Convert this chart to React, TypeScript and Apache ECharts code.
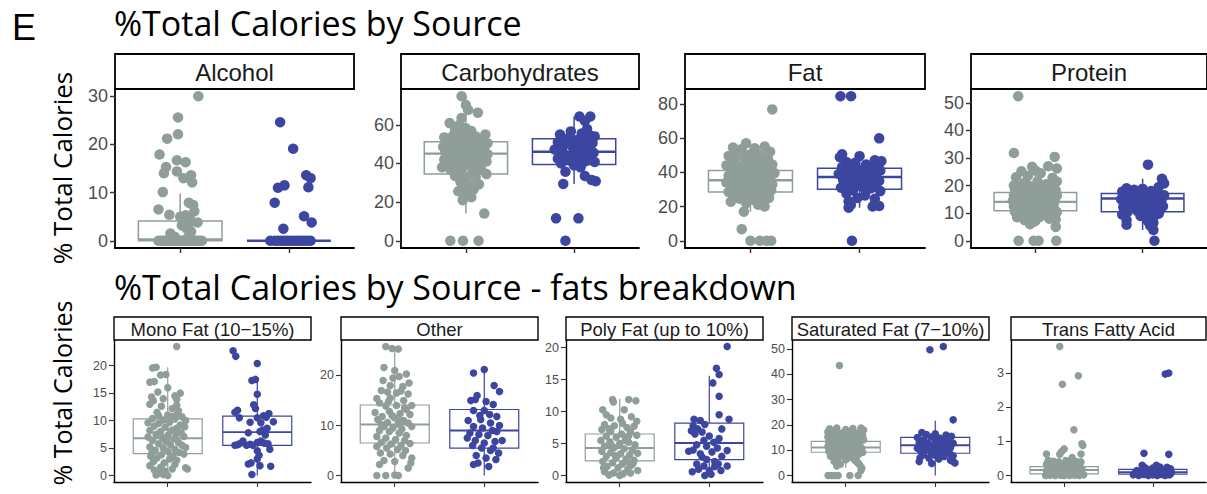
import React, { useEffect, useRef } from "react";
import * as echarts from "echarts";

const GRAY = "#8f9e98";
const BLUE = "#3c46a0";

// ---------- text ----------
const panelLetter = "E";
const topTitle = "%Total Calories by Source";
const bottomTitle = "%Total Calories by Source - fats breakdown";
const yTitle = "% Total Calories";
const topPanelNames = ["Alcohol", "Carbohydrates", "Fat", "Protein"];
const bottomPanelNames = ["Mono Fat (10−15%)", "Other", "Poly Fat (up to 10%)", "Saturated Fat (7−10%)", "Trans Fatty Acid"];

// ---------- tick labels ----------
const alcoholTicks = [0, 10, 20, 30];
const carbTicks = [0, 20, 40, 60];
const fatTicks = [0, 20, 40, 60, 80];
const proteinTicks = [0, 10, 20, 30, 40, 50];
const monoTicks = [0, 5, 10, 15, 20];
const otherTicks = [0, 10, 20];
const polyTicks = [0, 5, 10, 15, 20];
const satTicks = [0, 10, 20, 30, 40, 50];
const transTicks = [0, 1, 2, 3];

// ---------- box stats: [lowWhisker, Q1, median, Q3, highWhisker] ----------
const alcoholBoxGray = [0, 0, 0.3, 4.1, 9.8];
const alcoholBoxBlue = [0, 0, 0, 0, 0];
const carbBoxGray = [14.1, 34.5, 45.1, 51.2, 74.8];
const carbBoxBlue = [29.4, 39.5, 46.1, 52.8, 64.3];
const fatBoxGray = [17.0, 28.5, 35.3, 41.0, 56.9];
const fatBoxBlue = [19.3, 30.1, 37.2, 42.4, 49.4];
const proteinBoxGray = [5.0, 10.9, 14.1, 17.5, 27.0];
const proteinBoxBlue = [3.9, 10.5, 15.3, 17.1, 22.5];
const monoBoxGray = [0, 4.0, 6.8, 10.3, 19.7];
const monoBoxBlue = [0, 5.5, 7.9, 10.8, 17.4];
const otherBoxGray = [0, 6.5, 10.2, 14.1, 25.8];
const otherBoxBlue = [0, 5.5, 9.0, 13.2, 21.2];
const polyBoxGray = [0, 2.3, 4.3, 6.5, 12.0];
const polyBoxBlue = [0, 2.5, 5.1, 8.2, 15.6];
const satBoxGray = [3.0, 9.2, 11.1, 13.5, 18.8];
const satBoxBlue = [0, 8.8, 12.0, 15.1, 21.6];
const transBoxGray = [0, 0.05, 0.16, 0.26, 0.55];
const transBoxBlue = [0, 0.04, 0.1, 0.18, 0.3];

// ---------- jittered points: [offset from group centre, value] ----------
const alcoholPtsGray = [
  [0.167, 30], [-0.02, 25.6], [-0.02, 22.1], [-0.12, 21.2], [-0.19, 17.9], [-0.03, 16.7], [0.05, 16.3], [-0.13, 15.3],
  [-0.15, 14.0], [-0.03, 14.4], [0.1, 13.6], [0.03, 13.0], [0.11, 12.1], [-0.16, 10.1], [0.08, 7.9], [0.12, 7.4],
  [-0.2, 6.5], [0.13, 6.1], [-0.1, 5.4], [0, 5.0], [0.05, 5.3], [0.1, 3.9], [0.16, 3.8], [0.015, 3.2], [0.06, 2.5],
  [0.1, 1.9], [-0.09, 1.5], [0.03, 4.6], [0.09, 4.4], [-0.05, 0.8], [0.07, 0.6],
  [-0.2, 0], [-0.18, 0], [-0.16, 0], [-0.14, 0], [-0.12, 0], [-0.1, 0], [-0.08, 0], [-0.06, 0], [-0.04, 0], [-0.02, 0],
  [0, 0], [0.02, 0], [0.04, 0], [0.06, 0], [0.08, 0], [0.1, 0], [0.12, 0], [0.14, 0], [0.16, 0], [0.18, 0], [0.2, 0],
];
const alcoholPtsBlue = [
  [-0.08, 24.6], [0.04, 19.1], [0.16, 13.6], [0.2, 13.0], [-0.1, 11.0], [-0.04, 11.5], [0.18, 11.1], [-0.13, 7.9],
  [0.14, 5.1], [0.21, 3.8], [-0.05, 2.5],
  [-0.17, 0], [-0.13, 0], [-0.1, 0], [-0.07, 0], [-0.04, 0], [-0.01, 0], [0.02, 0], [0.05, 0], [0.08, 0], [0.11, 0],
  [0.14, 0], [0.17, 0], [0.2, 0],
];
const carbPtsGray = [
  [-0.04, 74.8], [0, 70.2], [0.02, 67.7], [0.11, 66.3], [-0.04, 63.5], [-0.15, 60.9], [-0.06, 60.0], [0.0, 58.2],
  [0.18, 55.0], [-0.1, 57.5], [0.05, 56.8], [-0.02, 55.5],
  [-0.2, 53.5], [-0.12, 54.2], [-0.07, 52.8], [0.02, 53.4], [0.09, 54.0], [0.15, 52.5], [-0.17, 51.0], [-0.09, 50.6],
  [0.0, 51.5], [0.07, 50.2], [0.13, 49.8], [0.2, 50.5], [-0.21, 48.6], [-0.14, 48.0], [-0.05, 49.0], [0.03, 48.4],
  [0.1, 47.5], [0.17, 48.2], [-0.19, 46.2], [-0.11, 45.6], [-0.02, 46.5], [0.06, 45.8], [0.14, 46.0], [0.2, 44.8],
  [-0.16, 44.0], [-0.08, 43.4], [0.01, 44.2], [0.09, 43.0], [0.16, 42.6], [-0.2, 42.0], [-0.12, 41.2], [-0.03, 41.8],
  [0.05, 40.6], [0.12, 40.2], [0.19, 41.0], [-0.17, 39.4], [-0.07, 38.8], [0.02, 39.2], [0.1, 38.0],
  [-0.22, 38.0], [0.19, 34.5], [-0.14, 36.5], [-0.04, 36.0], [0.06, 35.2], [0.14, 36.8], [-0.1, 33.5], [0.0, 32.8],
  [0.09, 33.0], [-0.05, 30.5], [0.03, 29.0], [0.12, 29.2], [0.0, 27.0], [0.07, 26.5], [-0.07, 25.6], [-0.02, 24.0],
  [0.05, 22.5], [-0.03, 21.0], [0.17, 14.1],
  [-0.144, 0], [-0.027, 0], [0.117, 0],
];
const carbPtsBlue = [
  [0.05, 64.3], [0.15, 64.3], [0.1, 62], [-0.03, 56.6], [-0.13, 55], [0.15, 54.5], [0.19, 54], [0.07, 55.5],
  [0.12, 57.8], [-0.05, 53.0], [0.02, 52.0], [0.09, 51.5], [-0.15, 51.0], [-0.09, 50.0], [0.17, 50.5], [-0.02, 49.0],
  [0.05, 48.0], [0.12, 47.8], [-0.18, 47.2], [-0.11, 46.5], [0.0, 46.0], [0.08, 45.0], [0.18, 45.5], [-0.07, 44.0],
  [0.03, 43.0], [0.14, 43.4], [-0.15, 42.5], [-0.04, 41.5], [0.1, 41.0], [0.19, 40.8], [-0.12, 40.0], [0.0, 39.0],
  [0.06, 38.0], [-0.08, 35.7], [0.1, 33.5], [0.16, 31.5], [0.2, 30.8], [-0.1, 29.4],
  [-0.167, 11.6], [0.04, 11.6], [-0.08, 0],
];
const fatPtsGray = [
  [0.2, 76.7], [-0.04, 56.9], [-0.16, 54.5], [-0.08, 53.5], [0.04, 54.0], [0.13, 55.0], [0.18, 52.0], [-0.12, 51.0],
  [0.0, 50.5], [0.09, 50.0], [-0.2, 49.5], [-0.05, 48.5], [0.16, 48.0], [0.06, 47.0], [-0.14, 46.5], [-0.02, 45.8],
  [0.12, 45.0], [0.2, 44.5], [-0.22, 44.0], [-0.09, 43.5], [0.03, 43.0], [0.09, 42.2], [0.17, 42.5], [-0.17, 41.5],
  [-0.05, 41.0], [0.01, 40.0], [0.13, 40.5], [-0.12, 39.5], [0.07, 39.0], [0.22, 39.5], [-0.2, 38.0], [-0.07, 37.5],
  [0.02, 37.0], [0.11, 37.5], [0.18, 36.5], [-0.15, 36.0], [-0.03, 35.5], [0.06, 35.0], [0.15, 34.5], [-0.22, 34.0],
  [-0.1, 33.5], [0.0, 33.0], [0.1, 32.5], [0.2, 33.0], [-0.17, 32.0], [-0.05, 31.5], [0.05, 31.0], [0.14, 30.5],
  [-0.12, 30.0], [0.01, 29.5], [0.09, 29.0], [0.19, 29.5], [-0.2, 28.5], [-0.07, 28.0], [0.04, 27.5], [0.12, 27.0],
  [-0.14, 26.5], [-0.02, 26.0], [0.08, 25.5], [0.17, 25.0], [-0.1, 24.5], [0.02, 24.0], [0.12, 23.5], [-0.18, 22.8],
  [-0.04, 22.0], [0.13, 20.0], [0.07, 21.0], [-0.06, 17.0], [-0.08, 6.8],
  [0.0, 0], [0.086, 0], [0.147, 0], [0.19, 0],
];
const fatPtsBlue = [
  [-0.175, 84.4], [-0.078, 84.4], [0.18, 59.8], [-0.18, 48.8], [-0.16, 50.5], [0.0, 49.4], [0.14, 47.0], [0.2, 46.5],
  [-0.12, 46.0], [-0.04, 45.5], [0.06, 44.5], [0.17, 44.0], [-0.16, 43.0], [0.1, 42.5], [-0.08, 42.0], [0.02, 41.5],
  [0.19, 41.0], [-0.13, 40.5], [-0.02, 40.0], [0.12, 39.5], [-0.19, 39.0], [0.05, 38.5], [0.15, 38.0], [-0.08, 37.5],
  [0.0, 36.5], [0.09, 36.0], [-0.15, 35.5], [0.18, 35.0], [-0.04, 34.0], [0.07, 33.5], [-0.12, 33.0], [0.14, 32.0],
  [0.02, 31.5], [-0.17, 31.0], [0.1, 30.5], [-0.06, 29.5], [0.19, 29.0], [-0.12, 27.5], [0.05, 26.5], [-0.02, 25.0],
  [0.14, 24.5], [-0.1, 23.0], [-0.08, 21.0], [0.12, 20.0], [0.18, 20.3], [-0.1, 19.3], [-0.07, 0],
];
const proteinPtsGray = [
  [-0.16, 52.4], [-0.2, 31.8], [0.18, 30.4], [-0.03, 26.8], [0.12, 27.0], [0.2, 26.2], [-0.13, 25.2], [0.0, 25.5],
  [0.05, 24.5], [-0.18, 23.0], [-0.07, 23.5], [0.16, 22.8], [0.2, 21.5], [-0.1, 21.0], [0.02, 21.5], [0.1, 20.5],
  [-0.2, 20.0], [-0.15, 19.5], [-0.05, 19.8], [0.06, 19.2], [0.15, 19.0], [-0.19, 18.5], [-0.09, 18.2], [0.0, 18.6],
  [0.1, 18.0], [0.19, 18.3], [-0.14, 17.5], [-0.03, 17.2], [0.07, 17.6], [0.16, 17.0], [-0.2, 16.5], [-0.1, 16.2],
  [0.01, 16.6], [0.12, 16.0], [0.2, 16.4], [-0.16, 15.5], [-0.05, 15.2], [0.05, 15.6], [0.15, 15.0], [-0.21, 14.5],
  [-0.11, 14.2], [-0.01, 14.6], [0.09, 14.0], [0.18, 14.4], [-0.17, 13.5], [-0.07, 13.2], [0.03, 13.6], [0.13, 13.0],
  [-0.2, 12.5], [-0.12, 12.2], [-0.02, 12.6], [0.08, 12.0], [0.17, 12.4], [-0.15, 11.5], [-0.05, 11.2], [0.05, 11.6],
  [0.14, 11.0], [-0.19, 10.5], [-0.09, 10.2], [0.01, 10.6], [0.11, 10.0], [0.2, 10.4], [-0.13, 9.5], [-0.03, 9.2],
  [0.07, 9.6], [0.16, 9.0], [-0.17, 8.5], [-0.07, 8.2], [0.04, 8.6], [0.13, 8.0], [-0.1, 7.5], [0.0, 7.2],
  [0.19, 7.8], [0.19, 5.0], [-0.05, 6.0],
  [-0.156, 0], [-0.016, 0], [0.03, 0], [0.195, 0],
];
const proteinPtsBlue = [
  [0.05, 27.6], [0.11, 0], [0.1, 3.9], [0.07, 5.5], [-0.15, 5.8], [0.18, 22.5], [0.2, 20.8], [0.15, 19.5],
  [-0.15, 19.0], [-0.08, 18.5], [0.0, 18.8], [0.08, 18.0], [-0.19, 17.8], [-0.12, 17.2], [-0.03, 17.5], [0.05, 17.0],
  [0.13, 16.8], [0.2, 16.5], [-0.17, 16.2], [-0.08, 16.0], [0.02, 15.8], [0.1, 15.5], [0.18, 15.2], [-0.2, 15.0],
  [-0.13, 14.6], [-0.04, 14.8], [0.06, 14.2], [0.14, 14.5], [-0.16, 13.8], [-0.07, 13.5], [0.03, 13.2], [0.12, 13.0],
  [0.19, 12.5], [-0.18, 12.2], [-0.1, 12.0], [0.0, 11.5], [0.09, 11.8], [0.16, 11.0], [-0.14, 10.5], [-0.05, 10.8],
  [0.06, 10.0], [0.15, 9.8], [-0.19, 9.5], [-0.02, 9.0], [0.1, 8.5], [-0.15, 7.5], [0.05, 7.0], [0.1, 6.5],
];
const monoPtsGray = [
  [0.1, 23.5], [-0.13, 19.7], [-0.17, 19.6], [-0.08, 18.3], [-0.02, 18.4], [-0.2, 17.0], [-0.15, 17.1], [0.0, 16.0],
  [-0.18, 14.3], [-0.05, 14.0], [0.08, 14.5], [0.1, 13.9], [-0.2, 13.0], [-0.07, 12.6], [0.05, 12.2], [0.12, 11.8],
  [-0.12, 11.5], [0.0, 11.0], [0.16, 10.7], [-0.17, 10.4], [-0.05, 10.1], [0.08, 10.3], [0.2, 10.0], [-0.22, 9.6],
  [-0.1, 9.5], [0.02, 9.7], [0.14, 9.2], [-0.15, 9.0], [-0.03, 8.8], [0.1, 8.6], [0.19, 8.9], [-0.2, 8.2],
  [-0.08, 8.0], [0.05, 8.3], [0.15, 7.8], [-0.13, 7.5], [0.0, 7.3], [0.1, 7.6], [-0.22, 7.0], [-0.06, 6.9],
  [0.07, 6.7], [0.18, 7.1], [-0.17, 6.4], [-0.02, 6.2], [0.12, 6.0], [-0.1, 5.8], [0.03, 5.6], [0.16, 5.5],
  [-0.2, 5.2], [-0.05, 5.0], [0.08, 4.8], [0.2, 5.1], [-0.14, 4.6], [0.0, 4.4], [0.13, 4.2], [-0.18, 4.0],
  [-0.07, 3.8], [0.06, 3.6], [0.18, 3.9], [-0.12, 3.2], [0.02, 3.0], [0.1, 2.8], [-0.16, 2.5], [-0.04, 2.3],
  [0.08, 2.0], [-0.2, 1.8], [-0.08, 1.5], [0.2, 1.4], [0.22, 1.2], [-0.15, 1.0], [-0.03, 0.8], [-0.1, 0.4],
  [-0.05, 0.2], [-0.13, 0.1], [0.0, 0.0], [-0.07, 0.5], [0.05, 1.2], [0.1, 12.8], [0.14, 15.0], [-0.11, 15.2],
  [-0.16, 13.6], [0.06, 10.8], [-0.1, 10.9], [0.03, 8.0], [-0.01, 6.5], [0.04, 3.3], [-0.19, 3.5], [0.11, 11.2],
];
const monoPtsBlue = [
  [-0.27, 22.7], [-0.24, 21.7], [0.0, 20.4], [-0.02, 17.5], [-0.06, 17.3], [0.0, 14.8], [-0.04, 12.9], [-0.02, 12.2],
  [-0.22, 11.9], [-0.25, 11.5], [0.13, 11.3], [0.07, 10.9], [0.1, 10.6], [-0.2, 10.5], [0.0, 10.5], [0.18, 9.8],
  [-0.08, 9.7], [0.04, 9.6], [0.11, 8.6], [0.06, 8.3], [0.03, 8.0], [-0.1, 7.8], [0.09, 7.4], [-0.16, 6.3],
  [-0.22, 5.6], [-0.25, 5.5], [-0.2, 5.8], [-0.12, 5.5], [-0.08, 5.7], [-0.05, 5.5], [0.0, 6.0], [0.04, 6.3],
  [0.08, 5.9], [0.12, 5.8], [0.14, 4.8], [0.0, 4.5], [0.02, 3.7], [0.0, 3.0], [-0.07, 2.3], [-0.1, 2.1],
  [0.15, 1.7], [-0.06, 0.2], [0.03, 1.8],
];
const otherPtsGray = [
  [-0.1, 25.8], [-0.03, 25.4], [0.04, 25.3], [-0.12, 21.6], [0.0, 21.0], [0.13, 20.3], [0.05, 19.8], [-0.02, 19.5],
  [0.16, 18.5], [-0.15, 17.0], [-0.08, 16.7], [0.07, 16.9], [0.15, 16.3], [-0.2, 15.4], [-0.05, 15.5], [0.1, 15.0],
  [0.19, 14.0], [-0.17, 14.5], [-0.1, 13.9], [0.02, 14.0], [0.13, 13.2], [-0.22, 12.6], [-0.06, 12.8], [0.06, 12.4],
  [0.17, 12.2], [-0.14, 11.8], [0.0, 11.5], [0.1, 11.0], [-0.19, 11.2], [-0.08, 10.6], [0.04, 10.3], [0.15, 10.5],
  [-0.12, 9.8], [-0.02, 9.5], [0.08, 9.3], [0.19, 9.8], [-0.17, 9.0], [-0.06, 8.8], [0.05, 8.5], [0.13, 8.0],
  [-0.2, 7.8], [-0.1, 7.5], [0.01, 7.2], [0.11, 7.0], [-0.15, 6.6], [-0.04, 6.3], [0.07, 6.0], [0.17, 6.4],
  [-0.2, 5.8], [-0.09, 5.5], [0.03, 5.2], [0.12, 5.0], [-0.16, 4.5], [-0.05, 4.3], [0.09, 4.0], [0.19, 3.5],
  [-0.12, 3.0], [0.0, 2.8], [0.18, 2.5], [-0.17, 2.2], [0.15, 1.5], [-0.1, 0.0], [0.0, 0.1], [0.04, 0.0],
  [-0.2, 0.0], [-0.05, 18.0], [0.09, 17.8], [-0.13, 19.0], [0.11, 13.5], [-0.03, 12.0], [0.06, 11.0], [-0.15, 10.2],
  [0.02, 16.5], [-0.07, 14.8],
];
const otherPtsBlue = [
  [0.0, 21.2], [-0.12, 20.5], [0.11, 18.0], [0.17, 16.8], [-0.08, 16.0], [-0.1, 15.2], [-0.15, 15.0], [0.02, 14.8],
  [0.1, 14.2], [-0.12, 13.0], [0.0, 13.0], [0.06, 12.2], [0.14, 11.8], [-0.18, 11.0], [-0.04, 11.2], [0.07, 10.5],
  [0.17, 10.0], [-0.12, 9.8], [-0.02, 9.5], [0.09, 9.0], [-0.16, 8.5], [-0.06, 8.2], [0.04, 8.0], [0.14, 8.8],
  [0.2, 7.0], [-0.19, 7.5], [-0.1, 7.0], [0.0, 6.5], [0.12, 6.8], [-0.13, 6.0], [-0.03, 5.5], [0.07, 5.0],
  [0.16, 4.5], [-0.09, 4.0], [0.02, 3.5], [0.13, 3.2], [-0.07, 2.5], [0.05, 1.8], [-0.12, 2.2], [0.1, 5.5],
  [-0.05, 12.0],
];
const polyPtsGray = [
  [-0.19, 10.3], [-0.08, 11.9], [-0.07, 11.5], [0.1, 11.9], [0.18, 11.7], [-0.15, 9.5], [0.05, 10.3], [-0.1, 9.0],
  [0.01, 8.8], [0.13, 9.2], [0.19, 8.5], [-0.17, 8.0], [-0.06, 7.8], [0.08, 7.5], [0.16, 7.7], [-0.2, 7.2],
  [-0.1, 6.9], [0.02, 6.5], [0.12, 6.8], [-0.15, 6.2], [-0.04, 6.0], [0.07, 5.8], [0.19, 6.3], [-0.21, 5.5],
  [-0.11, 5.3], [0.0, 5.0], [0.1, 5.2], [0.17, 4.8], [-0.17, 4.6], [-0.06, 4.4], [0.05, 4.2], [0.14, 4.0],
  [-0.2, 3.8], [-0.1, 3.6], [0.01, 3.4], [0.11, 3.2], [0.2, 3.5], [-0.15, 3.0], [-0.04, 2.8], [0.07, 2.6],
  [0.16, 2.4], [-0.19, 2.2], [-0.08, 2.0], [0.03, 1.8], [0.13, 1.6], [-0.14, 1.4], [-0.02, 1.2], [0.09, 1.0],
  [0.2, 0.8], [-0.17, 0.6], [-0.07, 0.4], [0.04, 0.3], [-0.12, 0.1], [0.0, 0.0], [0.06, 5.5], [-0.12, 7.3],
  [0.1, 6.2], [-0.05, 3.1], [0.15, 1.9], [-0.1, 4.9], [0.03, 8.2], [0.08, 2.2], [-0.18, 1.2], [0.12, 0.4],
];
const polyPtsBlue = [
  [0.2, 20.2], [0.08, 16.8], [0.11, 15.8], [0.04, 14.5], [0.11, 12.4], [0.11, 9.5], [-0.17, 8.8], [-0.1, 8.6],
  [-0.05, 8.0], [0.22, 8.8], [-0.18, 7.8], [-0.13, 7.3], [-0.2, 7.0], [-0.08, 6.8], [0.14, 7.3], [-0.16, 6.5],
  [0.0, 6.2], [0.11, 5.8], [-0.06, 5.5], [0.05, 5.2], [-0.14, 4.8], [-0.03, 4.6], [0.09, 4.3], [-0.18, 4.0],
  [-0.23, 3.8], [0.03, 3.7], [0.2, 3.9], [-0.1, 3.4], [0.14, 3.0], [-0.03, 2.5], [0.06, 2.2], [-0.14, 1.8],
  [-0.06, 1.5], [0.06, 1.4], [0.2, 1.5], [-0.12, 1.0], [0.0, 0.8], [0.13, 0.8], [-0.19, 0.6], [0.02, 0.2],
  [-0.05, 0.0], [0.1, 1.8], [-0.08, 2.9],
];
const satPtsGray = [
  [-0.07, 43.5], [-0.18, 18.5], [-0.1, 18.8], [0.0, 18.2], [0.08, 18.6], [0.17, 18.8], [0.2, 18.0], [-0.2, 17.2],
  [-0.12, 17.5], [-0.03, 17.0], [0.06, 17.3], [0.14, 16.8], [-0.16, 16.2], [-0.07, 16.5], [0.02, 16.0], [0.11, 16.3],
  [0.19, 15.8], [-0.2, 15.2], [-0.11, 15.0], [-0.02, 15.4], [0.07, 14.8], [0.15, 15.1], [-0.15, 14.2], [-0.06, 14.0],
  [0.03, 14.4], [0.12, 13.8], [0.2, 14.1], [-0.19, 13.2], [-0.1, 13.0], [-0.01, 13.3], [0.08, 12.8], [0.16, 13.1],
  [-0.14, 12.2], [-0.05, 12.0], [0.04, 12.4], [0.13, 11.8], [-0.2, 11.5], [-0.1, 11.2], [0.0, 11.0], [0.09, 11.4],
  [0.18, 10.8], [-0.16, 10.4], [-0.06, 10.1], [0.05, 10.5], [0.14, 10.0], [-0.19, 9.6], [-0.09, 9.3], [0.01, 9.0],
  [0.1, 9.4], [0.19, 9.2], [-0.13, 8.6], [-0.03, 8.3], [0.07, 8.0], [0.15, 8.5], [-0.17, 7.6], [-0.07, 7.3],
  [0.03, 7.0], [0.12, 7.4], [-0.1, 6.5], [0.0, 6.2], [0.1, 6.0], [-0.13, 5.5], [0.13, 5.2], [-0.06, 4.5],
  [0.16, 4.0], [-0.1, 3.8], [0.18, 3.0], [0.14, 5.0], [0.17, 2.0],
  [-0.197, 0], [-0.159, 0], [-0.122, 0], [-0.085, 0], [0.046, 0], [0.139, 0],
];
const satPtsBlue = [
  [-0.06, 49.7], [0.09, 51.0], [0.2, 22.0], [-0.15, 17.0], [-0.1, 16.2], [0.0, 16.5], [0.12, 16.0], [0.18, 15.5],
  [-0.2, 15.0], [-0.05, 15.2], [0.05, 14.8], [0.15, 14.5], [-0.13, 14.0], [0.0, 13.8], [0.09, 13.5], [-0.18, 13.0],
  [-0.08, 12.8], [0.04, 12.5], [0.14, 12.2], [0.2, 12.8], [-0.15, 12.0], [-0.03, 11.8], [0.07, 11.5], [0.17, 11.0],
  [-0.2, 10.8], [-0.1, 10.5], [0.01, 10.2], [0.11, 10.0], [-0.16, 9.5], [-0.05, 9.2], [0.06, 9.0], [0.16, 8.8],
  [-0.13, 8.2], [0.0, 8.0], [0.1, 7.5], [0.2, 7.8], [-0.17, 7.0], [-0.07, 6.8], [0.04, 6.5], [0.17, 6.0],
  [-0.18, 5.5], [0.22, 5.0], [-0.04, 4.8], [0.2, 5.5],
];
const transPtsGray = [
  [-0.05, 3.78], [-0.02, 2.67], [0.16, 2.92], [0.11, 1.34], [0.2, 0.93], [0.21, 0.88], [0.0, 0.78], [-0.03, 0.7],
  [-0.2, 0.63], [0.19, 0.63], [0.09, 0.53], [-0.05, 0.62],
  [-0.18, 0.45], [-0.12, 0.42], [-0.06, 0.4], [0.02, 0.44], [0.08, 0.38], [0.14, 0.41], [0.19, 0.4], [-0.2, 0.33],
  [-0.15, 0.3], [-0.09, 0.35], [-0.03, 0.3], [0.04, 0.33], [0.11, 0.3], [0.17, 0.34], [-0.17, 0.22], [-0.11, 0.25],
  [-0.05, 0.2], [0.0, 0.24], [0.06, 0.21], [0.12, 0.23], [0.2, 0.2], [-0.2, 0.15], [-0.14, 0.12], [-0.08, 0.16],
  [-0.01, 0.12], [0.05, 0.15], [0.1, 0.11], [0.16, 0.14], [-0.18, 0.06], [-0.12, 0.05], [-0.06, 0.07], [0.02, 0.05],
  [0.08, 0.06], [0.14, 0.04], [0.2, 0.07], [-0.21, 0.0], [-0.16, 0.01], [-0.1, 0.0], [-0.04, 0.01], [0.0, 0.0],
  [0.06, 0.0], [0.12, 0.01], [0.17, 0.0], [0.22, 0.02], [-0.13, 0.19], [0.09, 0.27], [-0.07, 0.1], [0.15, 0.09],
];
const transPtsBlue = [
  [0.14, 2.97], [0.18, 3.0], [-0.1, 0.65], [0.18, 0.62], [-0.12, 0.3], [-0.1, 0.25], [0.0, 0.22], [0.08, 0.25],
  [0.16, 0.24], [0.2, 0.2], [-0.18, 0.15], [-0.08, 0.14], [0.03, 0.16], [0.12, 0.15], [-0.2, 0.08], [-0.14, 0.1],
  [-0.04, 0.07], [0.06, 0.09], [0.15, 0.08], [0.21, 0.1], [-0.22, 0.02], [-0.16, 0.0], [-0.1, 0.03], [-0.05, 0.0],
  [0.0, 0.02], [0.05, 0.0], [0.1, 0.03], [0.14, 0.0], [0.19, 0.02], [-0.12, 0.05], [0.08, 0.05], [-0.02, 0.12],
  [0.11, 0.12], [-0.07, 0.2], [0.04, 0.3], [-0.18, 0.05], [0.2, 0.05],
];

// ---------- layout ----------
type Panel = {
  name: string; ticks: number[]; boxG: number[]; boxB: number[]; ptsG: number[][]; ptsB: number[][];
  left: number; width: number; row: 0 | 1;
};

const panels: Panel[] = [
  { name: topPanelNames[0], ticks: alcoholTicks, boxG: alcoholBoxGray, boxB: alcoholBoxBlue, ptsG: alcoholPtsGray, ptsB: alcoholPtsBlue, left: 115, width: 239, row: 0 },
  { name: topPanelNames[1], ticks: carbTicks, boxG: carbBoxGray, boxB: carbBoxBlue, ptsG: carbPtsGray, ptsB: carbPtsBlue, left: 401, width: 238, row: 0 },
  { name: topPanelNames[2], ticks: fatTicks, boxG: fatBoxGray, boxB: fatBoxBlue, ptsG: fatPtsGray, ptsB: fatPtsBlue, left: 685, width: 240, row: 0 },
  { name: topPanelNames[3], ticks: proteinTicks, boxG: proteinBoxGray, boxB: proteinBoxBlue, ptsG: proteinPtsGray, ptsB: proteinPtsBlue, left: 971, width: 236, row: 0 },
  { name: bottomPanelNames[0], ticks: monoTicks, boxG: monoBoxGray, boxB: monoBoxBlue, ptsG: monoPtsGray, ptsB: monoPtsBlue, left: 114, width: 197, row: 1 },
  { name: bottomPanelNames[1], ticks: otherTicks, boxG: otherBoxGray, boxB: otherBoxBlue, ptsG: otherPtsGray, ptsB: otherPtsBlue, left: 341, width: 197, row: 1 },
  { name: bottomPanelNames[2], ticks: polyTicks, boxG: polyBoxGray, boxB: polyBoxBlue, ptsG: polyPtsGray, ptsB: polyPtsBlue, left: 566, width: 197, row: 1 },
  { name: bottomPanelNames[3], ticks: satTicks, boxG: satBoxGray, boxB: satBoxBlue, ptsG: satPtsGray, ptsB: satPtsBlue, left: 792, width: 197, row: 1 },
  { name: bottomPanelNames[4], ticks: transTicks, boxG: transBoxGray, boxB: transBoxBlue, ptsG: transPtsGray, ptsB: transPtsBlue, left: 1011, width: 195, row: 1 },
];

const ROWS = [
  { top: 89, height: 159, stripTop: 54, stripH: 35, stripFont: 24, tickFont: 18, dot: 10.5, axisW: 1.8, boxW: 1.5, stripW: 1.8, labelMargin: 7 },
  { top: 340, height: 142, stripTop: 317, stripH: 23, stripFont: 18.5, tickFont: 12.5, dot: 7.5, axisW: 1.4, boxW: 1.2, stripW: 1.4, labelMargin: 7 },
];

const SANS = "'Liberation Sans', Arial, sans-serif";
const TITLE_FONT = "'Open Sans', 'Noto Sans', sans-serif";

function buildOption() {
  const grid: any[] = [];
  const xAxis: any[] = [];
  const yAxis: any[] = [];
  const series: any[] = [];
  const graphic: any[] = [];

  panels.forEach((p, i) => {
    const r = ROWS[p.row];
    const allVals = [...p.ptsG, ...p.ptsB].map((d) => d[1]).concat(p.boxG, p.boxB);
    const vmax = Math.max(...allVals);
    const vmin = Math.min(...allVals);
    const span = vmax - vmin;
    grid.push({ left: p.left, top: r.top, width: p.width, height: r.height, containLabel: false, outerBoundsMode: "none" });
    xAxis.push({
      type: "value", gridIndex: i, min: 0.4, max: 2.6,
      axisLine: { show: true, onZero: false, lineStyle: { color: "#000", width: r.axisW } },
      axisTick: { show: true, customValues: [1, 2], length: 5, lineStyle: { color: "#333", width: r.axisW * 0.8 } },
      axisLabel: { show: false },
      splitLine: { show: false },
    });
    yAxis.push({
      type: "value", gridIndex: i, min: vmin - 0.05 * span, max: vmax + 0.05 * span,
      axisLine: { show: true, onZero: false, lineStyle: { color: "#000", width: r.axisW } },
      axisTick: { show: true, customValues: p.ticks, length: 5, lineStyle: { color: "#333", width: r.axisW * 0.8 } },
      axisLabel: { show: true, customValues: p.ticks, color: "#4d4d4d", fontSize: r.tickFont, fontFamily: SANS, margin: r.labelMargin },
      splitLine: { show: false },
    });
    const lw = r.boxW;
    series.push({
      type: "custom", xAxisIndex: i, yAxisIndex: i, z: 2, silent: true,
      data: [[1, ...p.boxG], [2, ...p.boxB]],
      renderItem: (params: any, api: any) => {
        const x = api.value(0);
        const color = params.dataIndex === 0 ? GRAY : BLUE;
        const w = api.size([0.77, 0])[0];
        const pLo = api.coord([x, api.value(1)]);
        const pQ1 = api.coord([x, api.value(2)]);
        const pMed = api.coord([x, api.value(3)]);
        const pQ3 = api.coord([x, api.value(4)]);
        const pHi = api.coord([x, api.value(5)]);
        const l = pQ1[0] - w / 2;
        return {
          type: "group",
          children: [
            { type: "line", shape: { x1: pLo[0], y1: pLo[1], x2: pQ1[0], y2: pQ1[1] }, style: { stroke: color, lineWidth: lw } },
            { type: "line", shape: { x1: pQ3[0], y1: pQ3[1], x2: pHi[0], y2: pHi[1] }, style: { stroke: color, lineWidth: lw } },
            { type: "rect", shape: { x: l, y: pQ3[1], width: w, height: pQ1[1] - pQ3[1] }, style: { fill: "#fff", stroke: color, lineWidth: lw } },
            { type: "line", shape: { x1: l, y1: pMed[1], x2: l + w, y2: pMed[1] }, style: { stroke: color, lineWidth: lw * 1.6 } },
          ],
        };
      },
    });
    series.push({
      type: "scatter", xAxisIndex: i, yAxisIndex: i, z: 3, silent: true, symbolSize: r.dot,
      itemStyle: { color: GRAY, opacity: 1 },
      data: p.ptsG.map((d) => [1 + d[0], d[1]]),
    });
    series.push({
      type: "scatter", xAxisIndex: i, yAxisIndex: i, z: 3, silent: true, symbolSize: r.dot,
      itemStyle: { color: BLUE, opacity: 1 },
      data: p.ptsB.map((d) => [2 + d[0], d[1]]),
    });
    // strip
    graphic.push({
      type: "rect", z: 10, silent: true,
      shape: { x: p.left, y: r.stripTop, width: p.width, height: r.stripH },
      style: { fill: "#fff", stroke: "#000", lineWidth: r.stripW },
    });
    graphic.push({
      type: "text", z: 11, silent: true,
      x: p.left + p.width / 2, y: r.stripTop + r.stripH / 2 + 1,
      style: { text: p.name, fill: "#1a1a1a", font: `${r.stripFont}px ${SANS}`, textAlign: "center", textVerticalAlign: "middle" },
    });
  });

  graphic.push(
    { type: "text", x: 12, y: 9, style: { text: panelLetter, fill: "#000", font: `36px ${SANS}` } },
    { type: "text", x: 114, y: 6, style: { text: topTitle, fill: "#000", font: `34px ${TITLE_FONT}` } },
    { type: "text", x: 114, y: 270, style: { text: bottomTitle, fill: "#000", font: `34px ${TITLE_FONT}` } },
    {
      type: "text", x: 62, y: 168, rotation: Math.PI / 2,
      style: { text: yTitle, fill: "#000", font: `26px ${TITLE_FONT}`, textAlign: "center", textVerticalAlign: "middle" },
    },
    {
      type: "text", x: 62, y: 393, rotation: Math.PI / 2,
      style: { text: yTitle, fill: "#000", font: `25px ${TITLE_FONT}`, textAlign: "center", textVerticalAlign: "middle" },
    },
  );

  return { animation: false, backgroundColor: "#fff", grid, xAxis, yAxis, series, graphic };
}

export default function App() {
  const ref = useRef<HTMLDivElement>(null);
  useEffect(() => {
    document.body.style.margin = "0";
    if (!ref.current) return;
    const chart = echarts.init(ref.current, undefined, { renderer: "svg" });
    chart.setOption(buildOption() as any);
    return () => chart.dispose();
  }, []);
  return <div ref={ref} style={{ width: 1207, height: 494 }} />;
}
